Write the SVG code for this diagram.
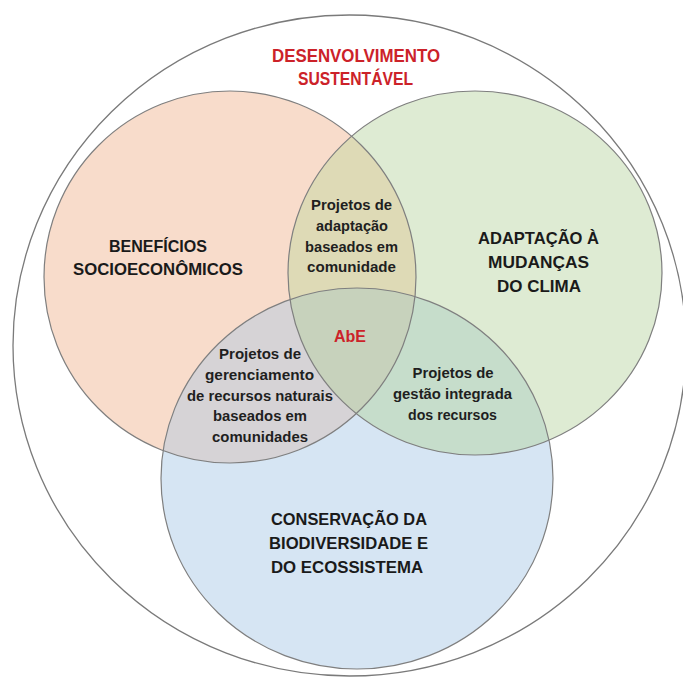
<svg xmlns="http://www.w3.org/2000/svg" width="683" height="677" viewBox="0 0 683 677">
  <style>
    .ring { fill: none; stroke: #7f7f7f; stroke-width: 1.2; }
    .big { font-family: "Liberation Sans", Arial, sans-serif; font-weight: bold; font-size: 16.5px; fill: #1a1a1a; text-anchor: middle; }
    .small { font-family: "Liberation Sans", Arial, sans-serif; font-weight: bold; font-size: 15px; fill: #1f1f1f; text-anchor: middle; }
    .red { font-family: "Liberation Sans", Arial, sans-serif; font-weight: bold; fill: #cc2229; text-anchor: middle; }
  </style>
  <defs>
    <ellipse id="eO" cx="230" cy="277" rx="186" ry="186"/>
    <ellipse id="eG" cx="475" cy="273" rx="187" ry="182"/>
    <ellipse id="eB" cx="357" cy="478.5" rx="196" ry="190.5"/>
    <clipPath id="cO"><use href="#eO"/></clipPath>
    <clipPath id="cG"><use href="#eG"/></clipPath>
    <clipPath id="cB"><use href="#eB"/></clipPath>
  </defs>
  <rect width="683" height="677" fill="#ffffff"/>

  <g id="outer-sustentavel">
    <ellipse cx="349.5" cy="345.5" rx="336.5" ry="330.5" fill="#ffffff" stroke="#7a7a7a" stroke-width="1.3"/>
    <text class="red" font-size="18.5" x="356" y="62" textLength="168" lengthAdjust="spacingAndGlyphs">DESENVOLVIMENTO</text>
    <text class="red" font-size="18.5" x="355.5" y="85" textLength="115" lengthAdjust="spacingAndGlyphs">SUSTENTÁVEL</text>
  </g>

  <g id="fills">
    <use href="#eO" fill="#f8dccb"/>
    <use href="#eG" fill="#deebd3"/>
    <use href="#eB" fill="#d6e5f3"/>
    <use href="#eG" fill="#dedab6" clip-path="url(#cO)"/>
    <use href="#eB" fill="#d6d3d6" clip-path="url(#cO)"/>
    <use href="#eB" fill="#c6ddcb" clip-path="url(#cG)"/>
    <g clip-path="url(#cO)"><use href="#eB" fill="#c7d2bc" clip-path="url(#cG)"/></g>
  </g>

  <g id="outlines">
    <use href="#eO" class="ring"/>
    <use href="#eG" class="ring"/>
    <use href="#eB" class="ring"/>
  </g>

  <g id="node-beneficios">
    <text class="big" x="158" y="251.5" textLength="98" lengthAdjust="spacingAndGlyphs">BENEFÍCIOS</text>
    <text class="big" x="158" y="275" textLength="170" lengthAdjust="spacingAndGlyphs">SOCIOECONÔMICOS</text>
  </g>

  <g id="node-adaptacao">
    <text class="big" x="538.5" y="244" textLength="121" lengthAdjust="spacingAndGlyphs">ADAPTAÇÃO À</text>
    <text class="big" x="538.5" y="268" textLength="101" lengthAdjust="spacingAndGlyphs">MUDANÇAS</text>
    <text class="big" x="539" y="292" textLength="84" lengthAdjust="spacingAndGlyphs">DO CLIMA</text>
  </g>

  <g id="node-conservacao">
    <text class="big" x="349" y="525" textLength="156" lengthAdjust="spacingAndGlyphs">CONSERVAÇÃO DA</text>
    <text class="big" x="348.5" y="549" textLength="159" lengthAdjust="spacingAndGlyphs">BIODIVERSIDADE E</text>
    <text class="big" x="347" y="573" textLength="152" lengthAdjust="spacingAndGlyphs">DO ECOSSISTEMA</text>
  </g>

  <g id="node-adaptacao-comunidade">
    <text class="small" x="351.5" y="210" textLength="81" lengthAdjust="spacingAndGlyphs">Projetos de</text>
    <text class="small" x="352" y="231" textLength="72" lengthAdjust="spacingAndGlyphs">adaptação</text>
    <text class="small" x="351.5" y="252" textLength="93" lengthAdjust="spacingAndGlyphs">baseados em</text>
    <text class="small" x="351.5" y="272" textLength="89" lengthAdjust="spacingAndGlyphs">comunidade</text>
  </g>

  <g id="node-gerenciamento">
    <text class="small" x="260" y="359" textLength="82" lengthAdjust="spacingAndGlyphs">Projetos de</text>
    <text class="small" x="259.5" y="380" textLength="109" lengthAdjust="spacingAndGlyphs">gerenciamento</text>
    <text class="small" x="260" y="401" textLength="146" lengthAdjust="spacingAndGlyphs">de recursos naturais</text>
    <text class="small" x="260" y="421" textLength="94" lengthAdjust="spacingAndGlyphs">baseados em</text>
    <text class="small" x="260" y="442" textLength="96" lengthAdjust="spacingAndGlyphs">comunidades</text>
  </g>

  <g id="node-gestao">
    <text class="small" x="453" y="378" textLength="81" lengthAdjust="spacingAndGlyphs">Projetos de</text>
    <text class="small" x="452.5" y="399" textLength="119" lengthAdjust="spacingAndGlyphs">gestão integrada</text>
    <text class="small" x="452.5" y="420" textLength="89" lengthAdjust="spacingAndGlyphs">dos recursos</text>
  </g>

  <g id="node-abe">
    <text class="red" font-size="16.5" x="350" y="342" textLength="32" lengthAdjust="spacingAndGlyphs">AbE</text>
  </g>
</svg>
